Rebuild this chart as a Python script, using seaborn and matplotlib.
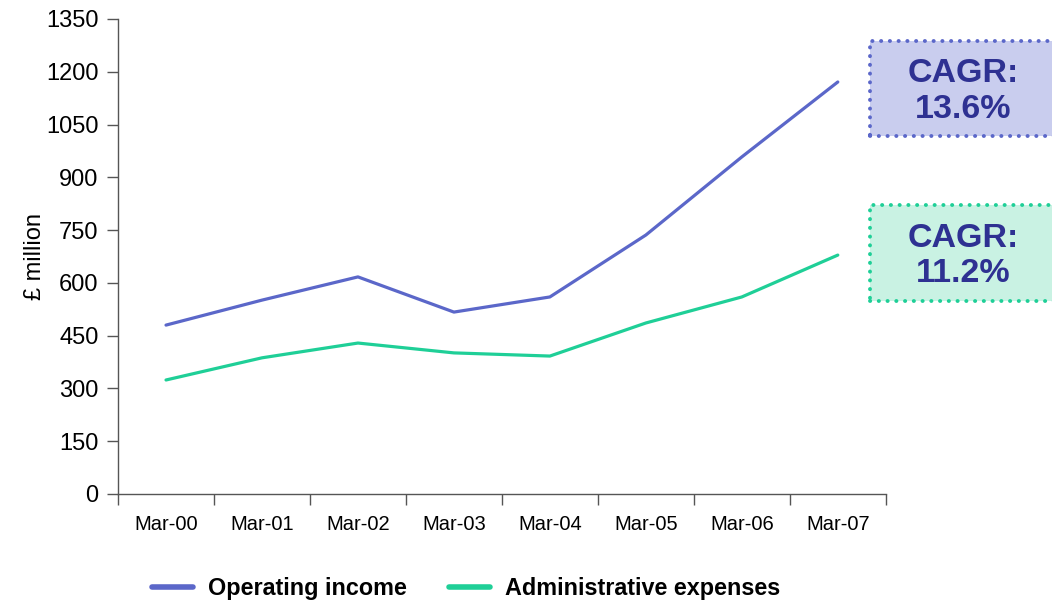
import matplotlib
matplotlib.use("Agg")
import matplotlib.pyplot as plt
from matplotlib.patches import Rectangle
import seaborn as sns
import pandas as pd
import numpy as np

periods = ["Mar-00", "Mar-01", "Mar-02", "Mar-03", "Mar-04", "Mar-05", "Mar-06", "Mar-07"]
operating_income = [480, 551, 617, 517, 560, 736, 958, 1171]
admin_expenses = [324, 387, 429, 401, 392, 486, 560, 679]
series_names = ["Operating income", "Administrative expenses"]
cagr_labels = ["CAGR:\n13.6%", "CAGR:\n11.2%"]
y_ticks = [0, 150, 300, 450, 600, 750, 900, 1050, 1200, 1350]

blue = "#5b67c9"
green = "#1fcf97"
box_fill = ["#c9cdee", "#c9f2e3"]
text_navy = "#2e3192"

sns.set_theme(style="white")
plt.rcParams["font.family"] = ["Liberation Sans", "DejaVu Sans"]
plt.rcParams["text.color"] = "black"

df = pd.DataFrame({
    "pos": list(range(len(periods))) * 2,
    "value": operating_income + admin_expenses,
    "series": [series_names[0]] * len(periods) + [series_names[1]] * len(periods),
})

fig = plt.figure(figsize=(10.52, 6.05), dpi=100)
ax = fig.add_axes([0.1122, 0.1835, 0.842 - 0.1122, 0.9686 - 0.1835])

sns.lineplot(data=df, x="pos", y="value", hue="series",
             palette={series_names[0]: blue, series_names[1]: green},
             linewidth=2.3, ax=ax, legend=False)

ax.set_xlim(-0.5, len(periods) - 0.5)
ax.set_ylim(0, 1350)
ax.set_yticks(y_ticks)
ax.set_yticklabels([str(t) for t in y_ticks], fontsize=17, color="black")
ax.set_xticks(np.arange(-0.5, len(periods), 1.0))
ax.set_xticklabels([])
ax.set_xticks(np.arange(len(periods)), minor=True)
ax.set_xticklabels(periods, minor=True, fontsize=14.5, color="black")
ax.tick_params(axis="x", which="major", bottom=True, direction="out", length=8, width=1, color="#555555")
ax.tick_params(axis="x", which="minor", bottom=True, length=0, pad=15)
ax.tick_params(axis="y", left=True, direction="out", length=8, width=1, color="#555555", pad=6)
ax.set_xlabel("")
ax.set_ylabel("£ million", fontsize=17, color="black", labelpad=0)

for side in ["top", "right"]:
    ax.spines[side].set_visible(False)
for side in ["left", "bottom"]:
    ax.spines[side].set_color("#555555")
    ax.spines[side].set_linewidth(1)

# CAGR call-out boxes on the right margin
W, H = 1052.0, 605.0
boxes = [(870, 41, 136), (870, 205, 301)]
edge_cols = [blue, green]
for (x0, ytop, ybot), fill, edge, label in zip(boxes, box_fill, edge_cols, cagr_labels):
    rect = Rectangle((x0 / W, 1 - ybot / H), (1060 - x0) / W, (ybot - ytop) / H,
                     transform=fig.transFigure, facecolor=fill, edgecolor=edge,
                     linestyle=(0, (0.05, 2.2)), linewidth=2.8, capstyle="round",
                     clip_on=False)
    fig.patches.append(rect)
    fig.text((x0 + 93) / W, 1 - ((ytop + ybot) / 2 + 3) / H, label, ha="center", va="center",
             fontsize=24.5, fontweight="bold", color=text_navy, linespacing=1.2)

handles = [plt.Line2D([], [], color=blue, linewidth=4),
           plt.Line2D([], [], color=green, linewidth=4)]
leg = fig.legend(handles, series_names, loc="center", bbox_to_anchor=(0.443, 0.027),
                 ncol=2, frameon=False, handlelength=1.75, handletextpad=0.65,
                 columnspacing=1.8, prop={"weight": "bold", "size": 16.8})
for t in leg.get_texts():
    t.set_color("black")

fig.savefig("out.png", dpi=100)
